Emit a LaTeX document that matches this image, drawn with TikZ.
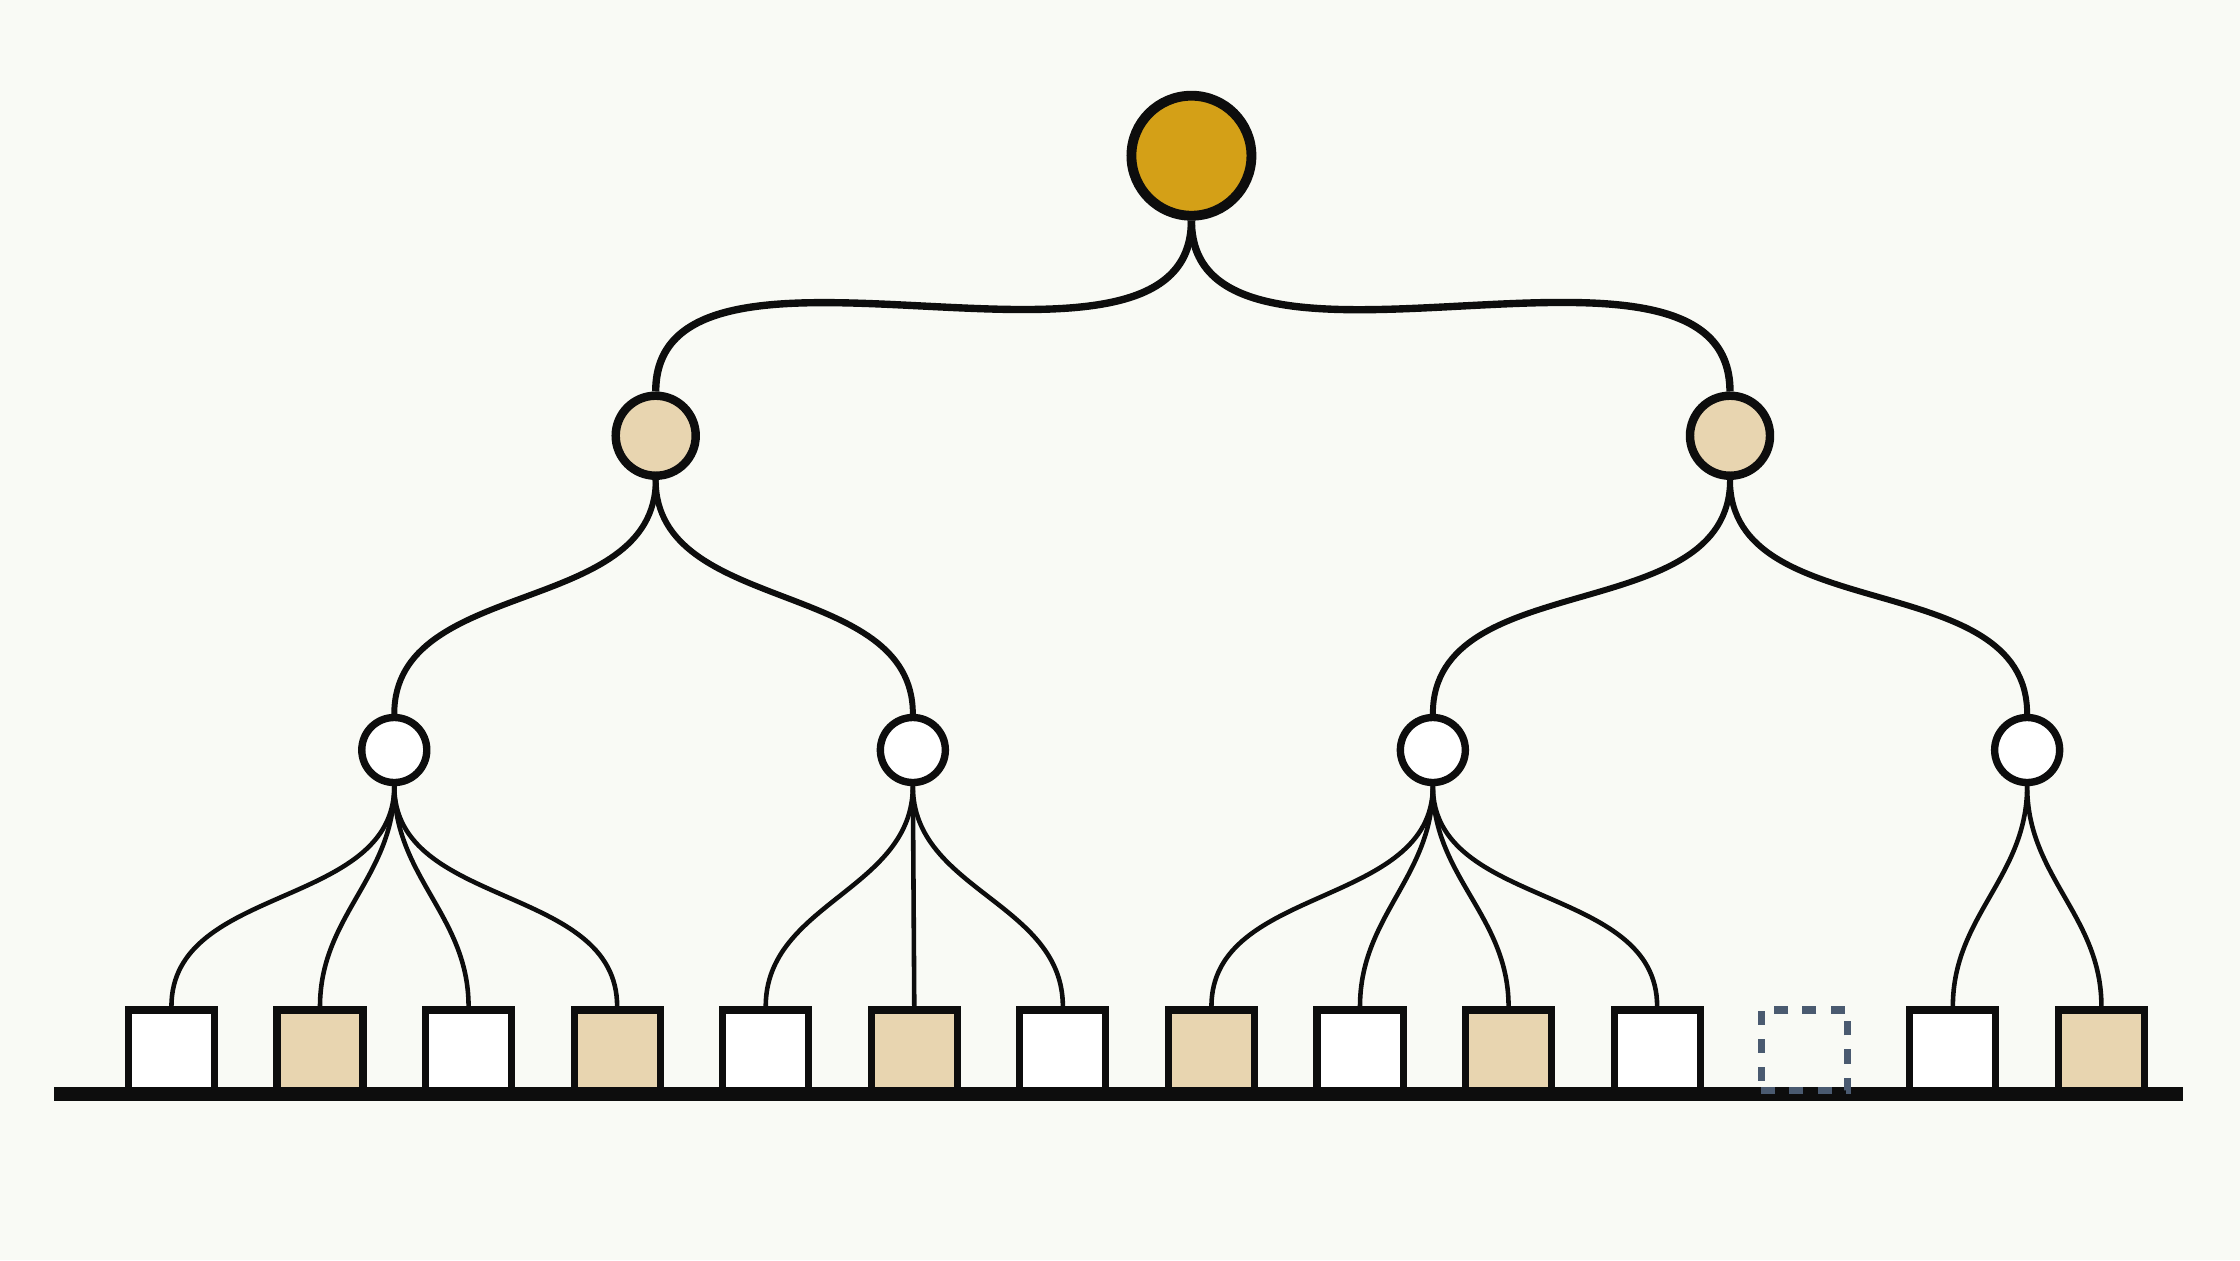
\documentclass[tikz,border=0pt]{standalone}
\begin{document}
\begin{tikzpicture}[x=0.0142857cm,y=-0.0142857cm,
  root/.style={circle,draw=black!95,line width=2.8pt,fill=rootc,minimum size=1.2cm,inner sep=0},
  mid/.style={circle,draw=black!95,line width=2.4pt,fill=tan,minimum size=0.8cm,inner sep=0},
  small/.style={circle,draw=black!95,line width=2.1pt,fill=white,minimum size=0.65cm,inner sep=0},
  leaf/.style={rectangle,draw=black!95,line width=2pt,fill=white,minimum width=0.86cm,minimum height=0.8cm,inner sep=0},
  tleaf/.style={leaf,fill=tan},
  ghost/.style={rectangle,draw=ghostc,line width=2pt,dash pattern=on 4pt off 4pt,minimum width=0.86cm,minimum height=0.8cm,inner sep=0},
  e0/.style={line width=2.1pt,draw=black!95},
  e1/.style={line width=1.7pt,draw=black!95},
  e2/.style={line width=1.3pt,draw=black!95}]
\definecolor{rootc}{HTML}{D4A017}
\definecolor{tan}{HTML}{E8D5B0}
\definecolor{ghostc}{HTML}{4A5A70}
\definecolor{bg}{HTML}{F9FAF5}
\fill[bg] (0,0) rectangle (1568,882);
\useasboundingbox (0,0) rectangle (1568,882);
\draw[line width=4pt,black!95] (38,766) coordinate (bl) -- (1528,766) coordinate (br);
\node[root] (r) at (834,109) {};
\node[mid] (a) at (459,305) {};
\node[mid] (b) at (1211,305) {};
\node[small] (a1) at (276,525) {};
\node[small] (a2) at (639,525) {};
\node[small] (b1) at (1003,525) {};
\node[small] (b2) at (1419,525) {};
\foreach \n/\x/\s in {1/120/leaf,2/224/tleaf,3/328/leaf,4/432/tleaf,5/536/leaf,6/640/tleaf,7/744/leaf,8/848/tleaf,9/952/leaf,10/1056/tleaf,11/1160/leaf,12/1263/ghost,13/1367/leaf,14/1471/tleaf}
  \node[\s] (l\n) at (\x,735) {};
\draw[e0] (r.south) to[out=-90,in=90,looseness=0.9] (a.north);
\draw[e0] (r.south) to[out=-90,in=90,looseness=0.9] (b.north);
\foreach \p/\c in {a/a1,a/a2,b/b1,b/b2}
  \draw[e1] (\p.south) to[out=-90,in=90] (\c.north);
\foreach \p/\c in {a1/l1,a1/l2,a1/l3,a1/l4,a2/l5,a2/l7,b1/l8,b1/l9,b1/l10,b1/l11,b2/l13,b2/l14}
  \draw[e2] (\p.south) to[out=-90,in=90] (\c.north);
\draw[e2] (a2.south) -- (l6.north);
\end{tikzpicture}
\end{document}
